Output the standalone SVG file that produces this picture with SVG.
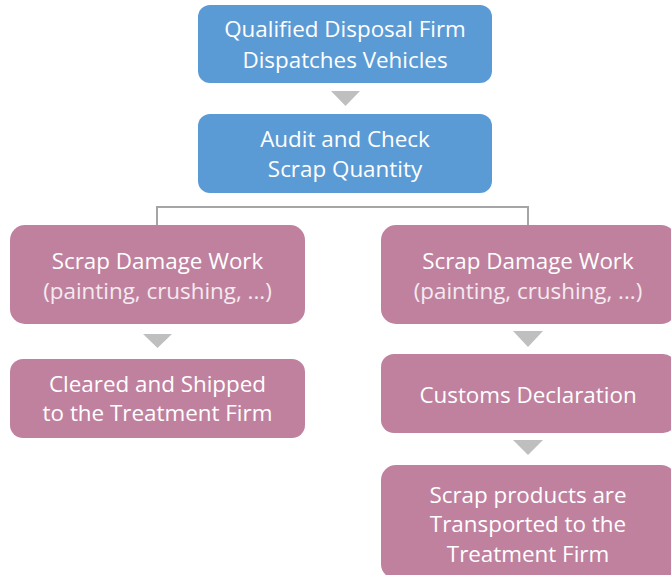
<svg xmlns="http://www.w3.org/2000/svg" width="671" height="575" viewBox="0 0 671 575">
<style>
.blue{fill:#5B9BD5}
.pink{fill:#C0819F}
.tri{fill:#BFBFBF}
.conn{fill:none;stroke:#A5A5A5;stroke-width:2}
text{font-family:"Open Sans","Liberation Sans",sans-serif;font-size:22.4px;fill:#FFFFFF;text-anchor:middle}
.sub{fill:#F4EAEF}
</style>
<rect width="671" height="575" fill="#FFFFFF"/>
<g id="connectors">
<path class="conn" d="M157 225 V207 H528 V225"/>
<polygon class="tri" points="331,91 360,91 345.5,106"/>
<polygon class="tri" points="143,334 172,334 157.5,348"/>
<polygon class="tri" points="513,331 543,331 528,347"/>
<polygon class="tri" points="513,440 543,440 528,455"/>
</g>
<g id="n1">
<rect class="blue" x="198" y="5" width="294" height="78" rx="12"/>
<text x="345" y="37">Qualified Disposal Firm</text>
<text x="345" y="68">Dispatches Vehicles</text>
</g>
<g id="n2">
<rect class="blue" x="198" y="114" width="294" height="79" rx="12"/>
<text x="345" y="147">Audit and Check</text>
<text x="345" y="177">Scrap Quantity</text>
</g>
<g id="n3">
<rect class="pink" x="10" y="225" width="295" height="99" rx="15"/>
<text x="157.5" y="269">Scrap Damage Work</text>
<text class="sub" x="157.5" y="299">(painting, crushing, ...)</text>
</g>
<g id="n4">
<rect class="pink" x="10" y="359" width="295" height="79" rx="13"/>
<text x="157.5" y="392">Cleared and Shipped</text>
<text x="157.5" y="421">to the Treatment Firm</text>
</g>
<g id="n5">
<rect class="pink" x="381" y="225" width="295" height="99" rx="15"/>
<text x="528" y="269">Scrap Damage Work</text>
<text class="sub" x="528" y="299">(painting, crushing, ...)</text>
</g>
<g id="n6">
<rect class="pink" x="381" y="354" width="295" height="79" rx="13"/>
<text x="528" y="403">Customs Declaration</text>
</g>
<g id="n7">
<rect class="pink" x="381" y="465" width="295" height="114" rx="15"/>
<text x="528" y="503">Scrap products are</text>
<text x="528" y="532">Transported to the</text>
<text x="528" y="562">Treatment Firm</text>
</g>
</svg>
